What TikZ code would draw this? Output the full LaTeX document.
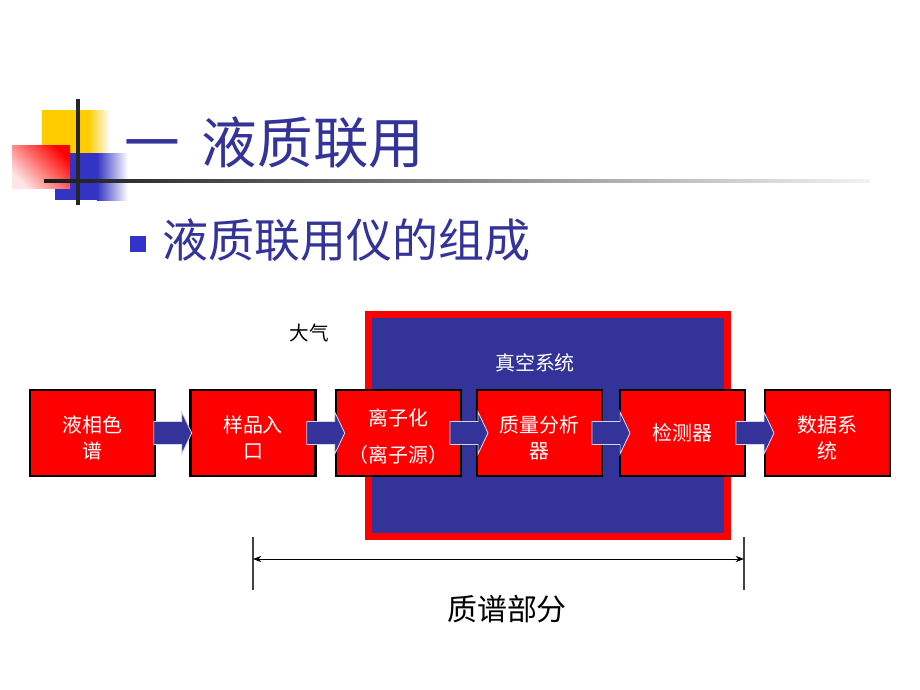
\documentclass[tikz,border=0pt]{standalone}
\usepackage{fontspec}
\setmainfont{Noto Sans CJK SC}
\usetikzlibrary{calc,arrows.meta}
\definecolor{slideblue}{HTML}{333399}
\definecolor{bulletblue}{HTML}{3333CC}
\definecolor{boxred}{HTML}{FF0000}
\definecolor{decoyellow}{HTML}{FFCC00}

\begin{document}
\begin{tikzpicture}[
    x=0.025cm, y=-0.025cm,
    stage/.style={draw=black, line width=1.8pt, fill=boxred, text=white,
                  minimum width=3.125cm, minimum height=2.15cm, inner sep=0pt,
                  align=center, font=\fontsize{14.2}{18.5}\selectfont},
    twoline/.style={text height=#1},
    twoline/.default=37.5pt,
    flow/.style={fill=slideblue, draw=white!80!slideblue, line width=0.6pt},
    dim/.style={{Stealth[length=6pt,width=4.5pt]}-{Stealth[length=6pt,width=4.5pt]},
                line width=0.7pt},
    dimtick/.style={line width=1pt, black!75},
  ]
    \useasboundingbox (0,0) rectangle (920,690);
    \fill[white] (0,0) rectangle (920,690);

    % Title decoration
    \fill[decoyellow] (42,110) rectangle (88,153);
    \shade[left color=decoyellow, right color=white] (88,110) rectangle (110,153);
    \fill[bulletblue!85!slideblue] (55,153) rectangle (97,200);
    \shade[left color=bulletblue!85!slideblue, right color=white] (97,153) rectangle (128,200);
    \shade[top color=boxred, bottom color=white!90!boxred, shading angle=-45]
        (12,145) rectangle (70,188);
    \draw[line width=2.2pt, black!85] (78,99) -- (78,205);
    \shade[left color=black!90, right color=white!95!black] (44,179.5) rectangle (870,182.5);

    % Headings
    \node[anchor=west, inner sep=0pt, text=slideblue,
          font=\fontsize{39.5}{41}\selectfont] (title) at (124,143) {一\hspace{0.4em}液质联用};
    \node[fill=bulletblue, minimum size=0.4cm, inner sep=0pt] (bullet) at (138,244) {};
    \node[anchor=west, inner sep=0pt, text=slideblue,
          font=\fontsize{32.7}{34}\selectfont] (subtitle) at (162,240) {液质联用仪的组成};

    % Vacuum region
    \node[draw=boxred, line width=5pt, fill=slideblue, minimum width=8.975cm,
          minimum height=5.55cm, inner sep=0pt] (vacuum) at (548,425.5) {};
    \node[font=\fontsize{13.9}{14}\selectfont] (air) at (309,333) {大气};
    \node[text=white, font=\fontsize{14.2}{15}\selectfont] (vaclabel) at (535,363) {真空系统};

    % Stages
    \node[stage, twoline] (lc)       at (92.5,433)  {液相色\\谱};
    \node[stage, twoline] (inlet)    at (253,433)   {样品入\\口};
    \node[stage, twoline=44pt] (source) at (398.5,433) {离子化\\[8pt]（离子源）};
    \node[stage, twoline] (analyzer) at (539.5,433) {质量分析\\器};
    \node[stage]          (detector) at (682.5,433) {检测器};
    \node[stage, twoline] (data)     at (827.5,433) {数据系\\统};

    % Block arrows
    \foreach \a/\b in {lc/inlet, inlet/source, source/analyzer,
                       analyzer/detector, detector/data} {
      \coordinate (mid) at ($(\a.east)!0.5!(\b.west)$);
      \draw[flow] ($(mid)+(-19,-11.5)$) -- ($(mid)+(9,-11.5)$) -- ($(mid)+(9,-21)$)
          -- ($(mid)+(19,0)$) -- ($(mid)+(9,21)$) -- ($(mid)+(9,11.5)$)
          -- ($(mid)+(-19,11.5)$) -- cycle;
    }

    % Mass spectrometer span
    \coordinate (msleft)  at (253,559);
    \coordinate (msright) at (744,559);
    \draw[dimtick] ($(msleft)+(0,-22)$) -- ($(msleft)+(0,31)$);
    \draw[dimtick] ($(msright)+(0,-22)$) -- ($(msright)+(0,31)$);
    \draw[dim] (msleft) -- (msright);
    \node[font=\fontsize{21.3}{22}\selectfont] (mslabel) at (507,609) {质谱部分};
\end{tikzpicture}
\end{document}
